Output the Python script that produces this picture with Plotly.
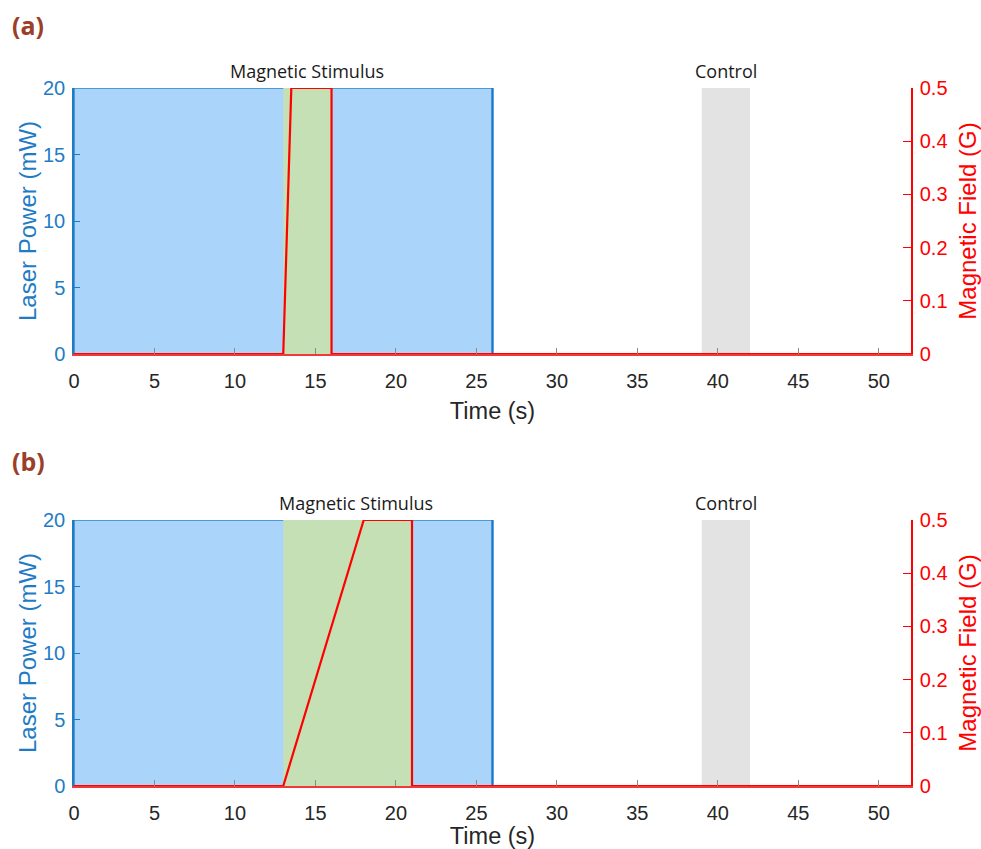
import plotly.graph_objects as go

# ---- data ----
laser_window = [0, 26]          # s, laser on
laser_power = 20                # mW
control_window = [39, 42]       # s
stim_window_a = [13, 16]        # s
stim_window_b = [13, 21]        # s
field_t_a = [0, 13, 13.5, 16, 16, 52]
field_b_a = [0, 0, 0.5, 0.5, 0, 0]
field_t_b = [0, 13, 18, 21, 21, 52]
field_b_b = [0, 0, 0.5, 0.5, 0, 0]
x_ticks = [0, 5, 10, 15, 20, 25, 30, 35, 40, 45, 50]
y_ticks = [0, 5, 10, 15, 20]
y2_ticks = [0, 0.1, 0.2, 0.3, 0.4, 0.5]
panel_labels = ["(a)", "(b)"]

BLUE_FILL = "#abd4fb"
BLUE_LINE = "#2c86d2"
GREEN_FILL = "#c5e0b4"
GRAY_FILL = "#e3e3e3"
RED = "#ff0000"
TXT = "#262626"
LEFT_C = "#1f7cc4"
FONT = "Liberation Sans, Arial"

W, H = 981, 849

def px_x(x):
    return x / W

def px_y(y):
    return 1 - y / H

fig = go.Figure()

def rect(x0x1, ytop):
    x0, x1 = x0x1
    return [x0, x0, x1, x1, x0], [0, ytop, ytop, 0, 0]

panels = [
    dict(xa="x", ya="y", ya2="y2", stim=stim_window_a, ft=field_t_a, fb=field_b_a),
    dict(xa="x2", ya="y3", ya2="y4", stim=stim_window_b, ft=field_t_b, fb=field_b_b),
]

for p in panels:
    xs, ys = rect(laser_window, laser_power)
    fig.add_trace(go.Scatter(x=xs, y=ys, xaxis=p["xa"], yaxis=p["ya"], mode="lines",
                             fill="toself", fillcolor=BLUE_FILL,
                             line=dict(color=BLUE_LINE, width=1.5), hoverinfo="skip", showlegend=False))
    fig.add_trace(go.Scatter(x=[laser_window[1], laser_window[1]], y=[0, laser_power],
                             xaxis=p["xa"], yaxis=p["ya"], mode="lines",
                             line=dict(color="#1a78c8", width=2.2), hoverinfo="skip", showlegend=False))
    xs, ys = rect(p["stim"], laser_power)
    fig.add_trace(go.Scatter(x=xs, y=ys, xaxis=p["xa"], yaxis=p["ya"], mode="lines",
                             fill="toself", fillcolor=GREEN_FILL,
                             line=dict(width=0), hoverinfo="skip", showlegend=False))
    xs, ys = rect(control_window, laser_power)
    fig.add_trace(go.Scatter(x=xs, y=ys, xaxis=p["xa"], yaxis=p["ya"], mode="lines",
                             fill="toself", fillcolor=GRAY_FILL,
                             line=dict(width=0), hoverinfo="skip", showlegend=False))
    fig.add_trace(go.Scatter(x=p["ft"], y=p["fb"], xaxis=p["xa"], yaxis=p["ya2"], mode="lines",
                             line=dict(color=RED, width=2.2), hoverinfo="skip", showlegend=False))

xdom = [px_x(74), px_x(911)]
dom_a = [px_y(354), px_y(88)]
dom_b = [px_y(786), px_y(520)]

def xaxis(anchor):
    return dict(domain=xdom, anchor=anchor, range=[0, 52], tickvals=x_ticks, automargin=False,
                ticks="inside", ticklen=6, tickcolor="#8a8a8a", tickwidth=1,
                showline=True, linecolor="#f03a3a", linewidth=1.5, showgrid=False, zeroline=False,
                ticklabelstandoff=8,
                tickfont=dict(family=FONT, size=20, color=TXT),
                title=dict(text="Time (s)", font=dict(family=FONT, size=23.5, color=TXT), standoff=12),
                fixedrange=True)

def yleft(anchor, dom):
    return dict(domain=dom, anchor=anchor, range=[0, 20], tickvals=y_ticks, automargin=False,
                ticks="inside", ticklen=6, tickcolor=LEFT_C, showline=True, linecolor=LEFT_C,
                linewidth=1.5, showgrid=False, zeroline=False, ticklabelstandoff=3,
                tickfont=dict(family=FONT, size=20, color=LEFT_C),
                title=dict(text="Laser Power (mW)", font=dict(family=FONT, size=24, color=LEFT_C), standoff=0),
                fixedrange=True)

def yright(anchor, overlay, dom):
    return dict(domain=dom, anchor=anchor, overlaying=overlay, side="right", range=[0, 0.5],
                tickvals=y2_ticks, ticktext=["0", "0.1", "0.2", "0.3", "0.4", "0.5"], automargin=False,
                ticks="inside", ticklen=8, tickcolor=RED, showline=True, linecolor=RED,
                linewidth=1.5, showgrid=False, zeroline=False, ticklabelstandoff=3,
                tickfont=dict(family=FONT, size=20, color=RED),
                title=dict(text="Magnetic Field (G)", font=dict(family=FONT, size=24, color=RED), standoff=16),
                fixedrange=True)

fig.update_layout(
    width=W, height=H, margin=dict(l=0, r=0, t=0, b=0, autoexpand=False),
    paper_bgcolor="white", plot_bgcolor="white",
    xaxis=xaxis("y"), yaxis=yleft("x", dom_a), yaxis2=yright("x", "y", dom_a),
    xaxis2=xaxis("y3"), yaxis3=yleft("x2", dom_b), yaxis4=yright("x2", "y3", dom_b),
)

stim_centers = [sum(stim_window_a) / 2, 17.5]
annos = []
for i, (ax, dom) in enumerate([("x", dom_a), ("x2", dom_b)]):
    annos.append(dict(text="Magnetic Stimulus", x=stim_centers[i], xref=ax, y=dom[1], yref="paper",
                      yanchor="bottom", yshift=3, showarrow=False,
                      font=dict(family="Open Sans, Noto Sans", size=18, color="#1a1a1a")))
    annos.append(dict(text="Control", x=sum(control_window) / 2, xref=ax, y=dom[1], yref="paper",
                      yanchor="bottom", yshift=3, showarrow=False,
                      font=dict(family="Open Sans, Noto Sans", size=18, color="#1a1a1a")))
    annos.append(dict(text="<b>" + panel_labels[i] + "</b>", x=px_x(10), xref="paper",
                      y=px_y(25 if i == 0 else 461), yref="paper",
                      xanchor="left", yanchor="middle", showarrow=False,
                      font=dict(family="Open Sans, Noto Sans", size=25, color="#9b3e2a")))
fig.update_layout(annotations=annos)

fig.write_html(
    "out.html",
    config={"displayModeBar": False},
    post_script="document.body.style.margin='0';document.documentElement.style.overflow='hidden';",
)
